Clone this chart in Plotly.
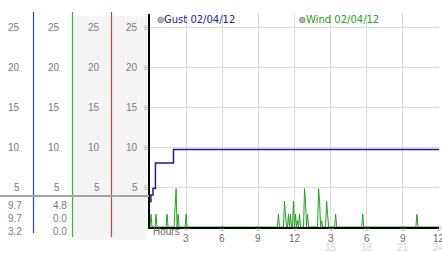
import plotly.graph_objects as go

# ---------------- data ----------------
gust_hours = [0.0, 0.08, 0.25, 0.45, 1.95, 24.0]
gust_vals = [3.2, 4.0, 4.8, 8.0, 9.7, 9.7]

# wind readings every 5 minutes (index = 5-minute slot), calm (0) elsewhere
wind_slots = [1, 6, 17, 25, 26, 28, 36, 128, 134, 135, 138, 140, 143, 145, 147, 149,
              154, 155, 157, 168, 169, 171, 176, 177, 185, 212, 266]
wind_readings = [1.6, 1.6, 1.6, 2.4, 4.8, 1.6, 1.6, 1.6, 3.2, 1.6, 1.6, 1.6, 3.2, 1.6, 0.8, 1.6,
                 4.8, 3.2, 1.6, 4.8, 3.2, 0.8, 3.2, 1.6, 1.6, 1.6, 1.6]
n_slots = 288

y_ticks = [5, 10, 15, 20, 25]
x_ticks = [3, 6, 9, 12, 15, 18, 21, 24]
x_labels_top = ["3", "6", "9", "12", "3", "6", "9", "12"]
x_labels_bottom = ["", "", "", "", "15", "18", "21", "24"]

gust_stats = ["9.7", "9.7", "3.2"]
wind_stats = ["4.8", "0.0", "0.0"]

gust_name = "Gust 02/04/12"
wind_name = "Wind 02/04/12"

# build wind series
wind_hours = [i / 12 for i in range(n_slots + 1)]
wind_vals = [0.0] * (n_slots + 1)
for s, v in zip(wind_slots, wind_readings):
    wind_vals[s] = v

# ---------------- layout geometry ----------------
W, Hh = 442, 253
L, R, T, B = 150, 439, 14, 227
PW, PH = R - L, B - T


def px(x):
    return (x - L) / PW


def py(y):
    return (B - y) / PH


fig = go.Figure()
fig.add_trace(go.Scatter(x=wind_hours, y=wind_vals, mode="lines",
                         line=dict(color="#22a022", width=1), showlegend=False,
                         hoverinfo="skip"))
fig.add_trace(go.Scatter(x=gust_hours, y=gust_vals, mode="lines", line_shape="hv",
                         line=dict(color="#1c1c96", width=1.5), showlegend=False,
                         hoverinfo="skip"))

shapes = []
# left panel background
shapes.append(dict(type="rect", xref="paper", yref="paper", x0=px(73), x1=px(147),
                   y0=py(240), y1=py(16), fillcolor="#f4f4f4", line_width=0, layer="below"))
# vertical coloured lines
for xx, col, ybot in [(33.5, "#2a4aa8", 233), (72.5, "#3aaa3a", 237), (111.5, "#b84a4a", 237)]:
    shapes.append(dict(type="line", xref="paper", yref="paper", x0=px(xx), x1=px(xx),
                       y0=py(ybot), y1=py(12), line=dict(color=col, width=1.2)))
# gray separator
shapes.append(dict(type="line", xref="paper", yref="paper", x0=px(0), x1=px(149),
                   y0=py(196), y1=py(196), line=dict(color="#a4a4a4", width=2)))
# legend circles
for cx in [160.7, 302.3]:
    shapes.append(dict(type="circle", xref="paper", yref="paper", x0=px(cx - 2.8), x1=px(cx + 2.8),
                       y0=py(22.8), y1=py(17.2), fillcolor="#b4b4b4", line=dict(color="#8a8a8a", width=1)))

ann = []
lab_font = dict(family="Liberation Sans, Arial", size=10, color="#7a7a7a")
mark_font = dict(family="Noto Sans CJK SC, DejaVu Sans", size=6, color="#8a8a8a")
# left column tick labels
for v in y_ticks:
    yy = B - v * PH / 26.625
    for rx in [20, 60.5, 99.5, 138]:
        ann.append(dict(x=px(rx), y=py(yy), xref="paper", yref="paper", text=str(v),
                        showarrow=False, xanchor="right", yanchor="middle", font=lab_font,
                        borderpad=0, borderwidth=0))
    ann.append(dict(x=px(145.5), y=py(yy), xref="paper", yref="paper", text="※",
                    showarrow=False, xanchor="center", yanchor="middle", font=mark_font,
                    borderpad=0, borderwidth=0))
# stats
for i, (g, w) in enumerate(zip(gust_stats, wind_stats)):
    yy = [205, 218.5, 232][i]
    ann.append(dict(x=px(21.5), y=py(yy), xref="paper", yref="paper", text=g, showarrow=False,
                    xanchor="right", yanchor="middle", font=lab_font, borderpad=0, borderwidth=0))
    ann.append(dict(x=px(66.5), y=py(yy), xref="paper", yref="paper", text=w, showarrow=False,
                    xanchor="right", yanchor="middle", font=lab_font, borderpad=0, borderwidth=0))
# x tick labels
for xv, t1, t2 in zip(x_ticks, x_labels_top, x_labels_bottom):
    ann.append(dict(x=xv, y=py(229), xref="x", yref="paper", text="※", showarrow=False,
                    xanchor="center", yanchor="middle", font=mark_font, borderpad=0, borderwidth=0))
    ann.append(dict(x=xv, y=py(238.5), xref="x", yref="paper", text=t1, showarrow=False,
                    xanchor="center", yanchor="middle",
                    font=dict(family="Liberation Sans, Arial", size=10, color="#6a6a6a"),
                    borderpad=0, borderwidth=0))
    if t2:
        ann.append(dict(x=xv, y=py(247), xref="x", yref="paper", text=t2, showarrow=False,
                        xanchor="center", yanchor="middle",
                        font=dict(family="Liberation Sans, Arial", size=10, color="#d4d4d4"),
                        borderpad=0, borderwidth=0))
ann.append(dict(x=px(152.5), y=py(232), xref="paper", yref="paper", text="Hours", showarrow=False,
                xanchor="left", yanchor="middle",
                font=dict(family="Liberation Sans, Arial", size=10, color="#6a6a6a"),
                borderpad=0, borderwidth=0))
# legend texts
ann.append(dict(x=px(164), y=py(20), xref="paper", yref="paper", text=gust_name, showarrow=False,
                xanchor="left", yanchor="middle",
                font=dict(family="DejaVu Sans, Verdana", size=10, color="#1c1c96"),
                borderpad=0, borderwidth=0))
ann.append(dict(x=px(306), y=py(20), xref="paper", yref="paper", text=wind_name, showarrow=False,
                xanchor="left", yanchor="middle",
                font=dict(family="DejaVu Sans, Verdana", size=10, color="#22a022"),
                borderpad=0, borderwidth=0))

fig.update_layout(
    width=W, height=Hh,
    margin=dict(l=L, r=W - R, t=T, b=Hh - B, pad=0),
    paper_bgcolor="white", plot_bgcolor="white",
    shapes=shapes, annotations=ann,
    xaxis=dict(range=[0, 24], tickvals=x_ticks, showticklabels=False, ticks="",
               showgrid=True, gridcolor="#dadada", gridwidth=1, zeroline=False,
               showline=True, linecolor="black", linewidth=2),
    yaxis=dict(range=[0, 26.625], tickvals=y_ticks, showticklabels=False, ticks="",
               showgrid=True, gridcolor="#dadada", gridwidth=1, zeroline=False,
               showline=True, linecolor="black", linewidth=2),
)

fig.write_html("out.html")
